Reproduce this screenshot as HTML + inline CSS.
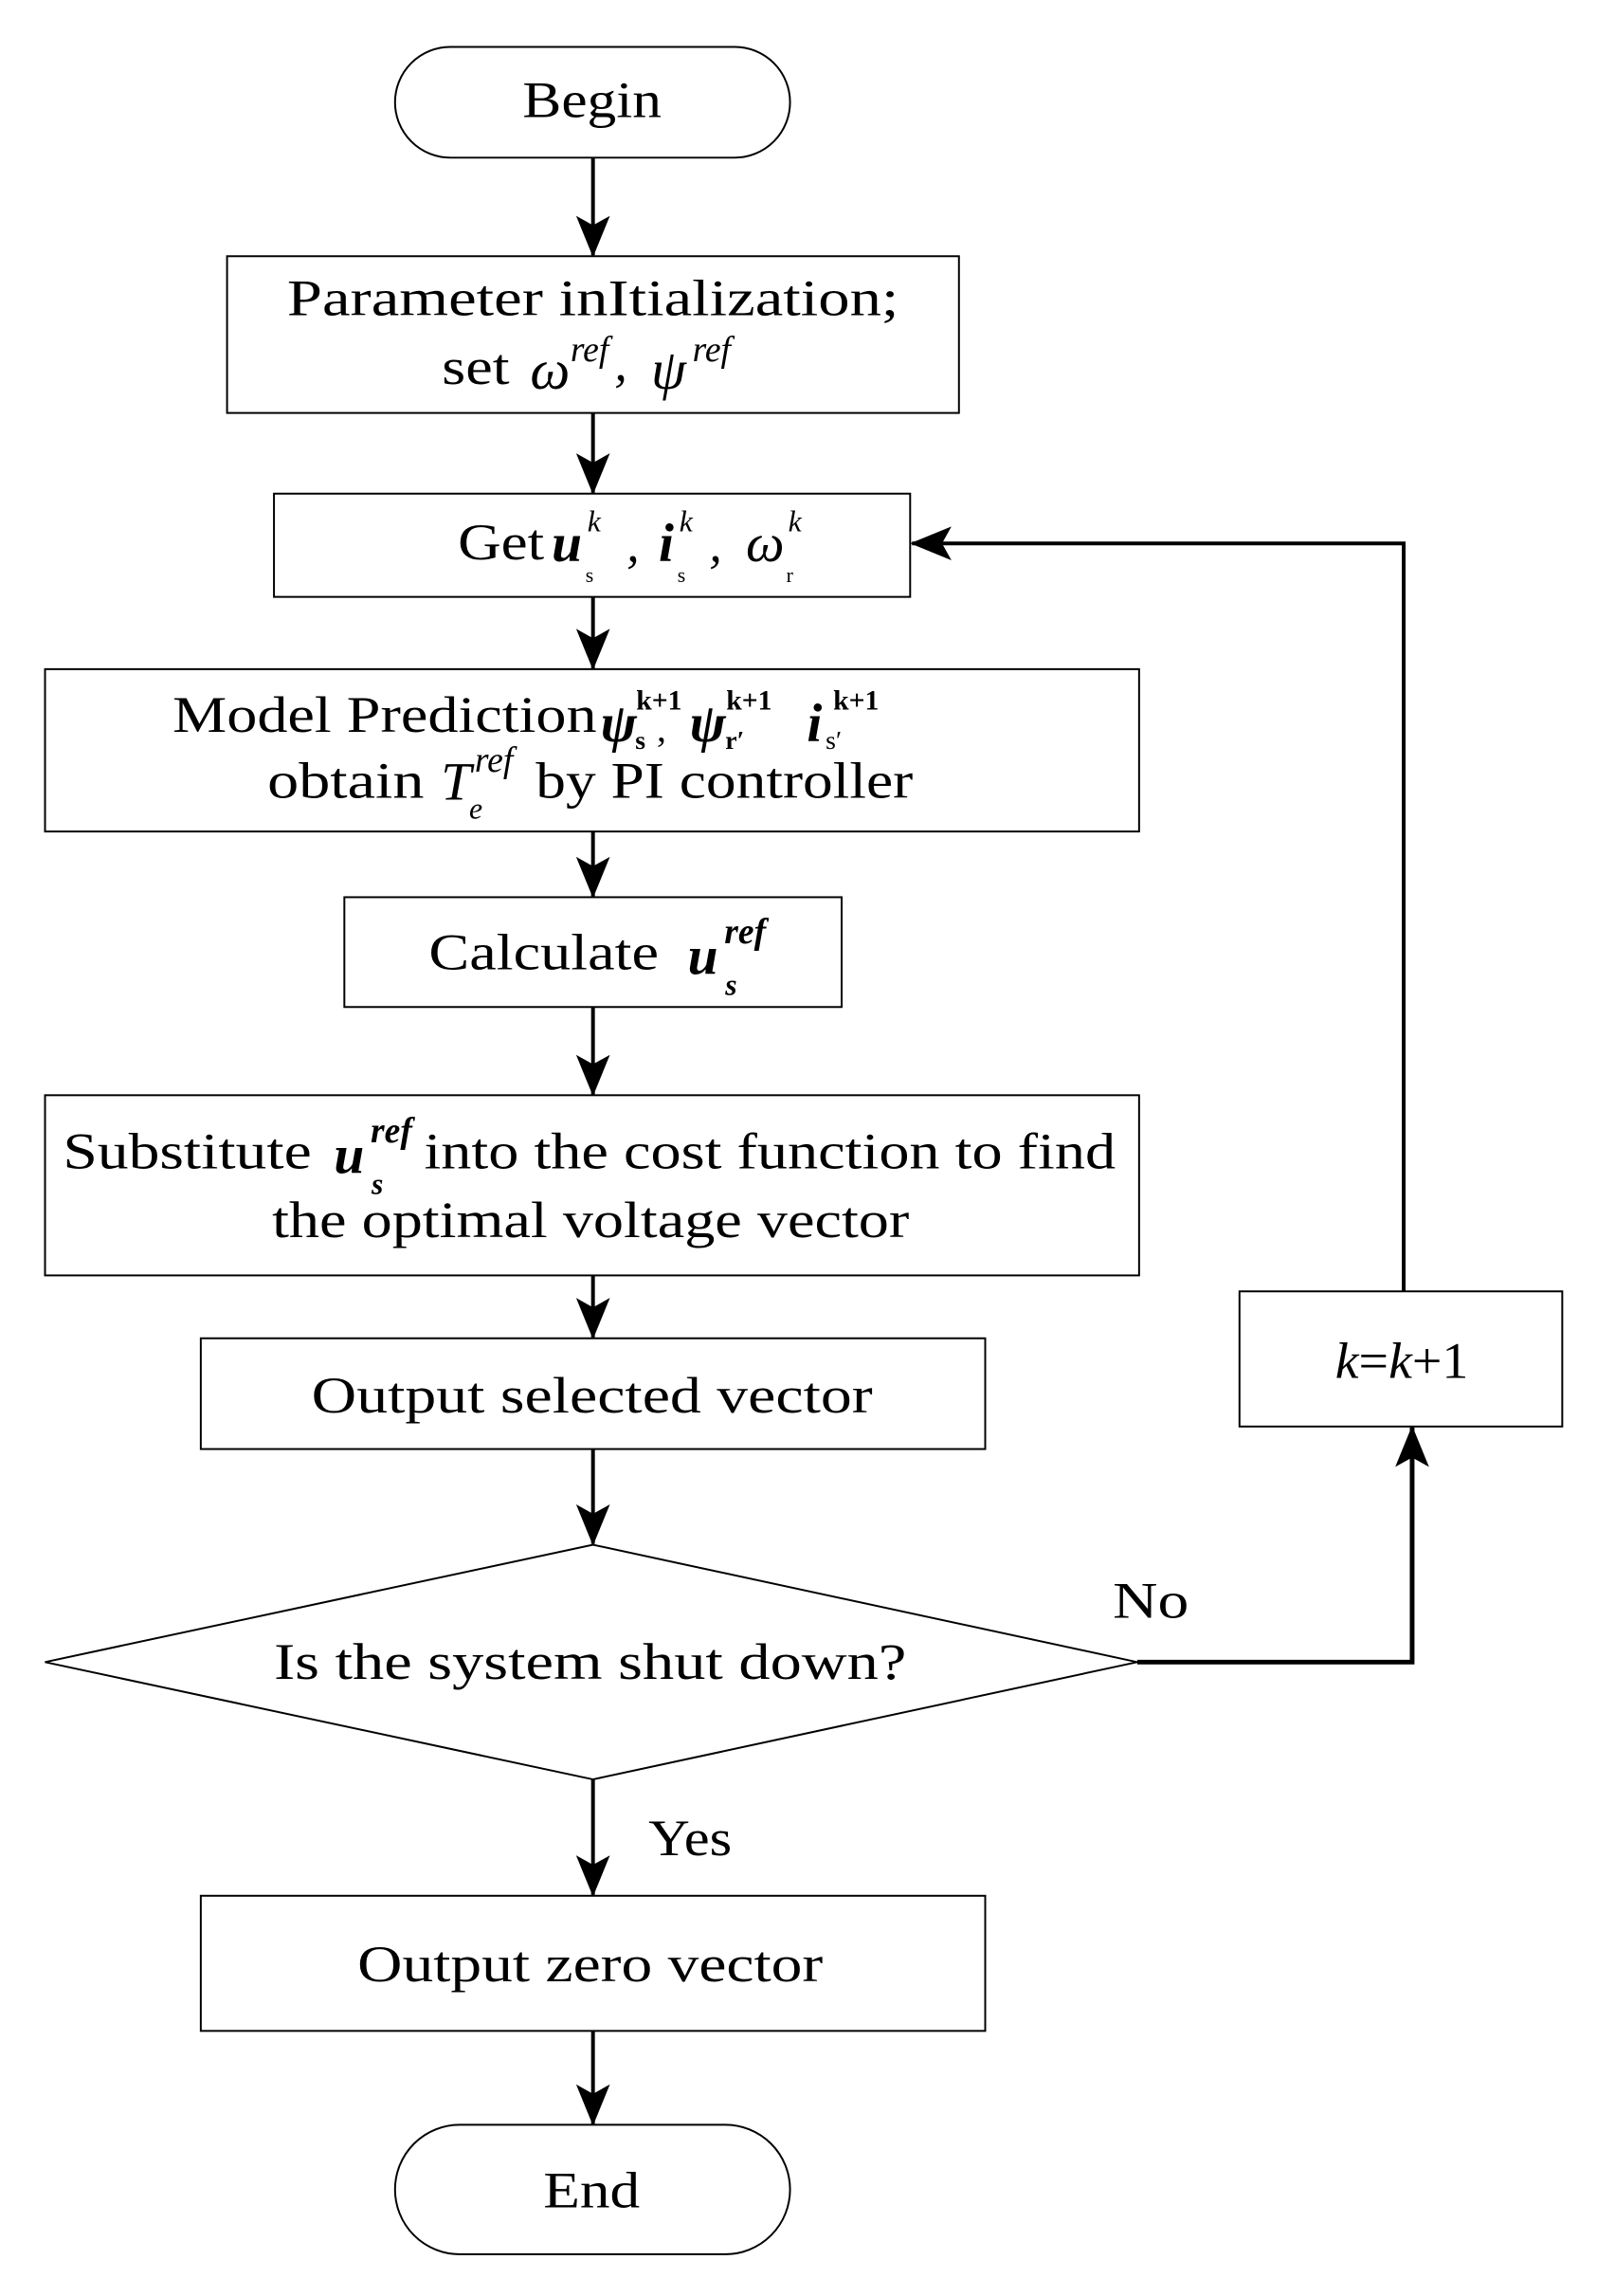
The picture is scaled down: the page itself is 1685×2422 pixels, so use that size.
<!DOCTYPE html>
<html><head><meta charset="utf-8"><style>
html,body{margin:0;padding:0;background:#fff;}
svg{display:block;}
text{font-family:"Liberation Serif",serif;fill:#000;}
</style></head><body>
<svg width="1685" height="2422" viewBox="0 0 1685 2422" xmlns="http://www.w3.org/2000/svg">
<defs>
<marker id="a" markerWidth="44" markerHeight="36" refX="42" refY="18" orient="auto" markerUnits="userSpaceOnUse" viewBox="0 0 44 36">
<path d="M0,0 L10,18 L0,36 L44,18 Z" fill="#000"/>
</marker>
</defs>
<g transform="scale(0.99,0.99)">
<g fill="none" stroke="#000" stroke-width="2">
<rect x="421" y="50" width="421" height="118" rx="59"/>
<rect x="242" y="273" width="780" height="167"/>
<rect x="292" y="526" width="678" height="110"/>
<rect x="48" y="713" width="1166" height="173"/>
<rect x="367" y="956" width="530" height="117"/>
<rect x="48" y="1167" width="1166" height="192"/>
<rect x="214" y="1426" width="836" height="118"/>
<polygon points="632,1646 1212,1771 632,1896 48,1771"/>
<rect x="214" y="2020" width="836" height="144"/>
<rect x="421" y="2264" width="421" height="138" rx="69"/>
<rect x="1321" y="1376" width="344" height="144"/>
</g>
<g stroke="#000" stroke-width="4" fill="none">
<line x1="632" y1="168" x2="632" y2="272" marker-end="url(#a)"/>
<line x1="632" y1="440" x2="632" y2="525" marker-end="url(#a)"/>
<line x1="632" y1="636" x2="632" y2="712" marker-end="url(#a)"/>
<line x1="632" y1="886" x2="632" y2="955" marker-end="url(#a)"/>
<line x1="632" y1="1073" x2="632" y2="1166" marker-end="url(#a)"/>
<line x1="632" y1="1359" x2="632" y2="1425" marker-end="url(#a)"/>
<line x1="632" y1="1544" x2="632" y2="1645" marker-end="url(#a)"/>
<line x1="632" y1="1896" x2="632" y2="2019" marker-end="url(#a)"/>
<line x1="632" y1="2164" x2="632" y2="2263" marker-end="url(#a)"/>
<polyline points="1212,1771 1505,1771 1505,1521" marker-end="url(#a)" stroke-width="5"/>
<polyline points="1496,1376 1496,579 972,579" marker-end="url(#a)"/>
</g>
<g font-size="54">
<text x="557" y="125" textLength="148" lengthAdjust="spacingAndGlyphs">Begin</text>
<text x="306" y="336" textLength="652" lengthAdjust="spacingAndGlyphs">Parameter  inItialization;</text>
<text x="471" y="409" textLength="72" lengthAdjust="spacingAndGlyphs">set</text>
<text x="565" y="414" font-style="italic" font-size="60">ω</text>
<text x="608" y="385" font-style="italic" font-size="38">ref</text>
<text x="655" y="405" font-style="italic">,</text>
<text x="694" y="414" font-style="italic" font-size="60">ψ</text>
<text x="738" y="385" font-style="italic" font-size="38">ref</text>

<text x="488" y="596" textLength="92" lengthAdjust="spacingAndGlyphs">Get</text>
<text x="588" y="598" font-style="italic" font-weight="bold" font-size="58">u</text>
<text x="626" y="566" font-style="italic" font-size="32">k</text>
<text x="624" y="620" font-size="22">s</text>
<text x="668" y="598" font-style="italic">,</text>
<text x="702" y="598" font-style="italic" font-weight="bold" font-size="58">i</text>
<text x="724" y="566" font-style="italic" font-size="32">k</text>
<text x="722" y="620" font-size="22">s</text>
<text x="756" y="598" font-style="italic">,</text>
<text x="795" y="598" font-style="italic" font-size="58">ω</text>
<text x="840" y="566" font-style="italic" font-size="32">k</text>
<text x="838" y="620" font-size="22">r</text>

<text x="184" y="780" textLength="452" lengthAdjust="spacingAndGlyphs">Model Prediction</text>
<text x="640" y="790" font-weight="bold" font-style="italic" font-size="58">ψ</text>
<text x="677" y="798" font-family="Liberation Sans" font-weight="bold" font-size="28">s</text>
<text x="678" y="756" font-family="Liberation Sans" font-weight="bold" font-size="30">k+1</text>
<text x="700" y="790" font-size="40">,</text>
<text x="735" y="790" font-weight="bold" font-style="italic" font-size="58">ψ</text>
<text x="773" y="798" font-family="Liberation Sans" font-weight="bold" font-size="28">r′</text>
<text x="774" y="756" font-family="Liberation Sans" font-weight="bold" font-size="30">k+1</text>
<text x="860" y="790" font-weight="bold" font-style="italic" font-size="58">i</text>
<text x="880" y="798" font-family="Liberation Sans" font-size="28">s′</text>
<text x="888" y="756" font-family="Liberation Sans" font-weight="bold" font-size="30">k+1</text>
<text x="285" y="850" textLength="167" lengthAdjust="spacingAndGlyphs">obtain</text>
<text x="470" y="852" font-style="italic" font-size="58">T</text>
<text x="500" y="872" font-style="italic" font-size="32">e</text>
<text x="506" y="822" font-style="italic" font-size="38">ref</text>
<text x="571" y="850" textLength="402" lengthAdjust="spacingAndGlyphs">by PI controller</text>

<text x="457" y="1033" textLength="245" lengthAdjust="spacingAndGlyphs">Calculate</text>
<text x="733" y="1038" font-style="italic" font-weight="bold" font-size="58">u</text>
<text x="773" y="1060" font-style="italic" font-weight="bold" font-size="32">s</text>
<text x="772" y="1005" font-style="italic" font-weight="bold" font-size="38">ref</text>

<text x="67" y="1245" textLength="265" lengthAdjust="spacingAndGlyphs">Substitute</text>
<text x="356" y="1250" font-style="italic" font-weight="bold" font-size="58">u</text>
<text x="396" y="1272" font-style="italic" font-weight="bold" font-size="32">s</text>
<text x="395" y="1217" font-style="italic" font-weight="bold" font-size="38">ref</text>
<text x="452" y="1245" textLength="737" lengthAdjust="spacingAndGlyphs">into the cost function to find</text>
<text x="290" y="1318" textLength="679" lengthAdjust="spacingAndGlyphs">the optimal voltage vector</text>

<text x="332" y="1505" textLength="598" lengthAdjust="spacingAndGlyphs">Output selected vector</text>
<text x="292" y="1789" textLength="674" lengthAdjust="spacingAndGlyphs">Is the system  shut down?</text>
<text x="1186" y="1724" textLength="81" lengthAdjust="spacingAndGlyphs">No</text>
<text x="691" y="1977" textLength="89" lengthAdjust="spacingAndGlyphs">Yes</text>
<text x="1423" y="1468" textLength="142" lengthAdjust="spacingAndGlyphs"><tspan font-style="italic">k</tspan>=<tspan font-style="italic">k</tspan>+1</text>
<text x="381" y="2111" textLength="496" lengthAdjust="spacingAndGlyphs">Output zero vector</text>
<text x="579" y="2352" textLength="103" lengthAdjust="spacingAndGlyphs">End</text>
</g>
</g>
</svg>
</body></html>
